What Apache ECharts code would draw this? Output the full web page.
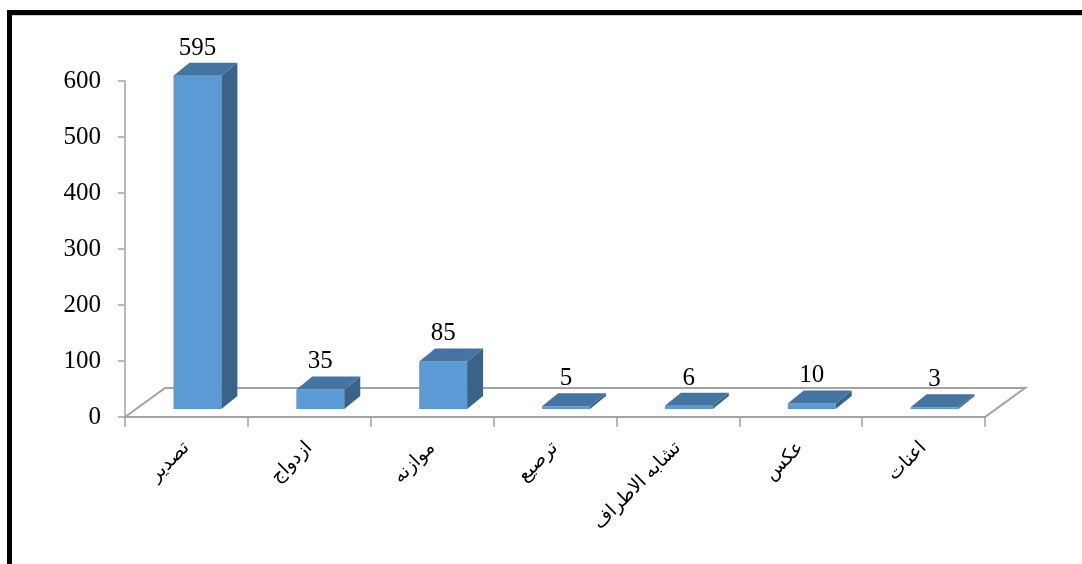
<!DOCTYPE html>
<html><head><meta charset="utf-8">
<script src="https://cdn.jsdelivr.net/npm/echarts@6/dist/echarts.min.js"></script>
<style>html,body{margin:0;padding:0;background:#fff}#c{width:1082px;height:564px}</style>
</head><body><div id="c"></div>
<script>
const categories = ['تصدیر', 'ازدواج', 'موازنه', 'ترصیع', 'تشابه الاطراف', 'عکس', 'اعنات'];
const values = [595, 35, 85, 5, 6, 10, 3];
const yMin = 0, yMax = 600, yStep = 100;

const chart = echarts.init(document.getElementById('c'), null, {renderer: 'canvas'});
const AXIS = '#a3a3a3';
const DEPTH_X = 40, DEPTH_Y = -29;   // floor depth
const OFF_X = 11, OFF_Y = -8;        // bar position inside floor depth
const BAR_DX = 16, BAR_DY = -13;     // bar depth
const SERIF = '"Times New Roman","Liberation Serif",serif';

function renderFloor(params, api) {
  const cs = params.coordSys;
  const x = cs.x, y = cs.y + cs.height, w = cs.width;
  return {
    type: 'polygon',
    shape: {points: [[x, y], [x + DEPTH_X, y + DEPTH_Y], [x + w + DEPTH_X, y + DEPTH_Y], [x + w, y]]},
    style: {fill: '#ffffff', stroke: AXIS, lineWidth: 2}
  };
}

function renderBar(params, api) {
  const i = api.value(0), v = api.value(1);
  const base = api.coord([i, 0]);
  const top = api.coord([i, v]);
  const band = api.size([1, 0])[0];
  const w = band * 0.39;
  const cx = base[0] + OFF_X;
  const x0 = cx - w / 2, x1 = cx + w / 2;
  const yb = base[1] + OFF_Y, yt = top[1] + OFF_Y;
  return {
    type: 'group',
    children: [
      {type: 'polygon', shape: {points: [[x0, yb], [x1, yb], [x1, yt], [x0, yt]]}, style: {fill: '#5B9BD5'}},
      {type: 'polygon', shape: {points: [[x1, yb], [x1 + BAR_DX, yb + BAR_DY], [x1 + BAR_DX, yt + BAR_DY], [x1, yt]]}, style: {fill: '#3B6389'}},
      {type: 'polygon', shape: {points: [[x0, yt], [x1, yt], [x1 + BAR_DX, yt + BAR_DY], [x0 + BAR_DX, yt + BAR_DY]]}, style: {fill: '#4474A1'}},
      {type: 'text', style: {text: String(v), x: cx, y: yt + BAR_DY - 2, align: 'center', verticalAlign: 'bottom',
        fontFamily: SERIF, fontSize: 25, fill: '#000'}}
    ]
  };
}

chart.setOption({
  animation: false,
  backgroundColor: '#ffffff',
  grid: {left: 125, right: 97, top: 81, bottom: 147},
  xAxis: {
    type: 'category', data: categories, boundaryGap: true,
    axisLine: {lineStyle: {color: AXIS, width: 2}},
    axisTick: {show: true, length: 10, lineStyle: {color: AXIS, width: 1.5}},
    axisLabel: {rotate: 45, margin: 28, interval: 0, color: '#000', fontSize: 19,
      fontFamily: '"Times New Roman","Liberation Serif","DejaVu Sans",serif'},
    z: 1
  },
  yAxis: {
    type: 'value', min: yMin, max: yMax, interval: yStep,
    axisLine: {show: true, lineStyle: {color: AXIS, width: 1.5}},
    axisTick: {show: true, length: 7, lineStyle: {color: AXIS, width: 1.5}},
    splitLine: {show: false},
    axisLabel: {margin: 24, color: '#000', fontSize: 25, fontFamily: SERIF}
  },
  graphic: [
    {type: 'rect', shape: {x: 9.5, y: 12.5, width: 1200, height: 700}, style: {fill: 'none', stroke: '#000', lineWidth: 5}, z: 100},
    {type: 'line', shape: {x1: 12, y1: 15.5, x2: 1082, y2: 15.5}, style: {stroke: '#d0d0d0', lineWidth: 1}, z: 100}
  ],
  series: [
    {type: 'custom', renderItem: renderFloor, data: [[0, 0]], z: 0, silent: true},
    {type: 'custom', renderItem: renderBar, data: values.map((v, i) => [i, v]), z: 5}
  ]
});
</script></body></html>
